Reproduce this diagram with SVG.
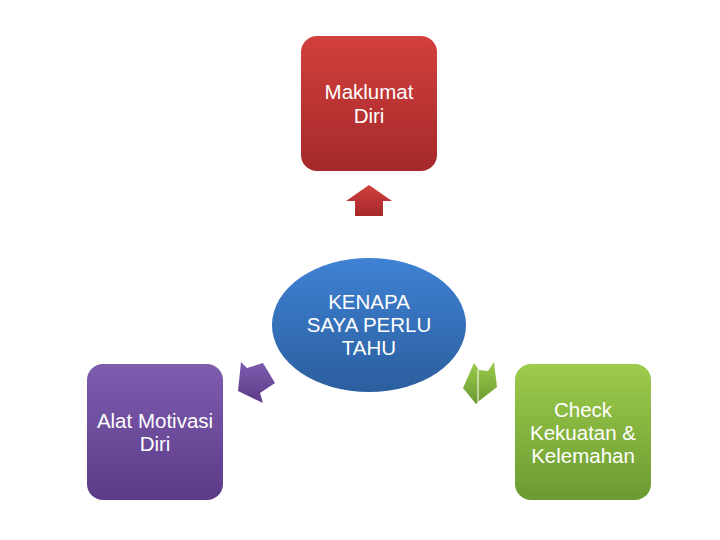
<svg xmlns="http://www.w3.org/2000/svg" width="720" height="540" viewBox="0 0 720 540">
<defs>
<linearGradient id="gr" x1="0" y1="0" x2="0" y2="1"><stop offset="0" stop-color="#d2403d"/><stop offset="1" stop-color="#a4292a"/></linearGradient>
<linearGradient id="gb" x1="0" y1="0" x2="0" y2="1"><stop offset="0" stop-color="#3f82d4"/><stop offset="1" stop-color="#2b5e9e"/></linearGradient>
<linearGradient id="gp" x1="0" y1="0" x2="0" y2="1"><stop offset="0" stop-color="#7e5daf"/><stop offset="1" stop-color="#5b3b88"/></linearGradient>
<linearGradient id="gg" x1="0" y1="0" x2="0" y2="1"><stop offset="0" stop-color="#9dcb4c"/><stop offset="1" stop-color="#6b9b31"/></linearGradient>
<style>
text{font-family:"Liberation Sans",Arial,sans-serif;font-size:20.5px;fill:#ffffff;text-anchor:middle}
</style>
</defs>
<rect width="720" height="540" fill="#ffffff"/>
<g id="connectors">
<polygon points="369,185 392,201 383,201 383,216 355,216 355,201 346,201" fill="url(#gr)"/>
<polygon points="241,362 247,368 263,363 275,383 260,393 263,403 238,391" fill="url(#gp)"/>
<polygon points="474,363 479,370 488,371 494,362 497,387 479,401 476,404 463,388" fill="url(#gg)"/>
<line x1="478" y1="369" x2="478" y2="402" stroke="#ffffff" stroke-width="1"/>
</g>
<g id="maklumat">
<rect x="301" y="36" width="136" height="135" rx="16" fill="url(#gr)"/>
<text x="369" y="99">Maklumat</text>
<text x="369" y="123">Diri</text>
</g>
<g id="center">
<ellipse cx="369" cy="325" rx="97" ry="67" fill="url(#gb)"/>
<text x="369" y="309">KENAPA</text>
<text x="369" y="332">SAYA PERLU</text>
<text x="369" y="355">TAHU</text>
</g>
<g id="alat">
<rect x="87" y="364" width="136" height="136" rx="16" fill="url(#gp)"/>
<text x="155" y="428">Alat Motivasi</text>
<text x="155" y="451">Diri</text>
</g>
<g id="check">
<rect x="515" y="364" width="136" height="136" rx="16" fill="url(#gg)"/>
<text x="583" y="417">Check</text>
<text x="583" y="440">Kekuatan &amp;</text>
<text x="583" y="463">Kelemahan</text>
</g>
</svg>
